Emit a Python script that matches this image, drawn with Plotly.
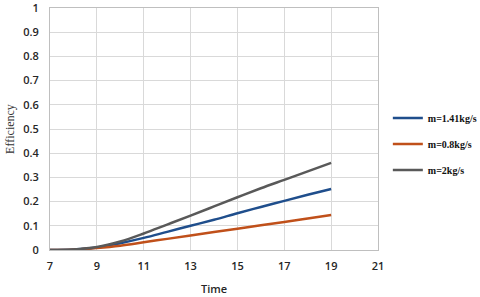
import plotly.graph_objects as go

time = [7, 8, 9, 10, 11, 12, 13, 14, 15, 16, 17, 18, 19]
eff_141 = [0, 0.002, 0.010, 0.028, 0.050, 0.075, 0.100, 0.125, 0.152, 0.178, 0.203, 0.228, 0.252]
eff_08 = [0, 0.001, 0.008, 0.018, 0.032, 0.046, 0.060, 0.074, 0.088, 0.102, 0.116, 0.130, 0.145]
eff_2 = [0, 0.002, 0.012, 0.035, 0.068, 0.105, 0.142, 0.180, 0.218, 0.255, 0.290, 0.325, 0.360]

names = ["m=1.41kg/s", "m=0.8kg/s", "m=2kg/s"]
colors = ["#1F4E8C", "#C0501A", "#595959"]
series = [eff_141, eff_08, eff_2]

y_ticks = [0, 0.1, 0.2, 0.3, 0.4, 0.5, 0.6, 0.7, 0.8, 0.9, 1]
y_labels = ["0", "0.1", "0.2", "0.3", "0.4", "0.5", "0.6", "0.7", "0.8", "0.9", "1"]
x_ticks = [7, 9, 11, 13, 15, 17, 19, 21]

fig = go.Figure()
for i, (n, c, s) in enumerate(zip(names, colors, series)):
    fig.add_trace(go.Scatter(x=time, y=s, mode="lines", name=n,
                             line=dict(color=c, width=2.5, shape="spline"),
                             legendgroup=str(i)))

tickfont = dict(family="Open Sans", size=11, color="#262626", weight=600)

fig.update_layout(
    width=480, height=297,
    margin=dict(l=50, r=102, t=8, b=47, autoexpand=False),
    paper_bgcolor="white", plot_bgcolor="white",
    showlegend=True,
    legend=dict(x=1.03, y=0.605, xanchor="left", yanchor="top",
                font=dict(family="Liberation Serif", size=10, color="#111111", weight="bold"),
                tracegroupgap=7, itemwidth=30, traceorder="grouped",
                bgcolor="rgba(0,0,0,0)"),
    xaxis=dict(range=[7, 21], tickvals=x_ticks,
               showgrid=True, gridcolor="#D9D9D9", gridwidth=1, automargin=False,
               showline=True, linecolor="#BFBFBF", mirror=True, zeroline=False,
               ticks="", ticklabelstandoff=6, ticklabeloverflow="allow",
               tickfont=tickfont,
               title=dict(text="Time", font=dict(family="Open Sans", size=11, color="#262626", weight=600), standoff=13)),
    yaxis=dict(range=[0, 1], tickvals=y_ticks, ticktext=y_labels,
               showgrid=True, gridcolor="#D9D9D9", gridwidth=1, automargin=False,
               showline=True, linecolor="#BFBFBF", mirror=True, zeroline=False,
               ticks="", ticklabelstandoff=8, ticklabeloverflow="allow",
               tickfont=tickfont,
               title=dict(text="Efficiency", font=dict(family="Liberation Serif", size=12, color="#333333"), standoff=6)),
)
fig.write_html("out.html", config={"displayModeBar": False},
               post_script="document.body.style.margin='0';document.body.style.overflow='hidden';")
